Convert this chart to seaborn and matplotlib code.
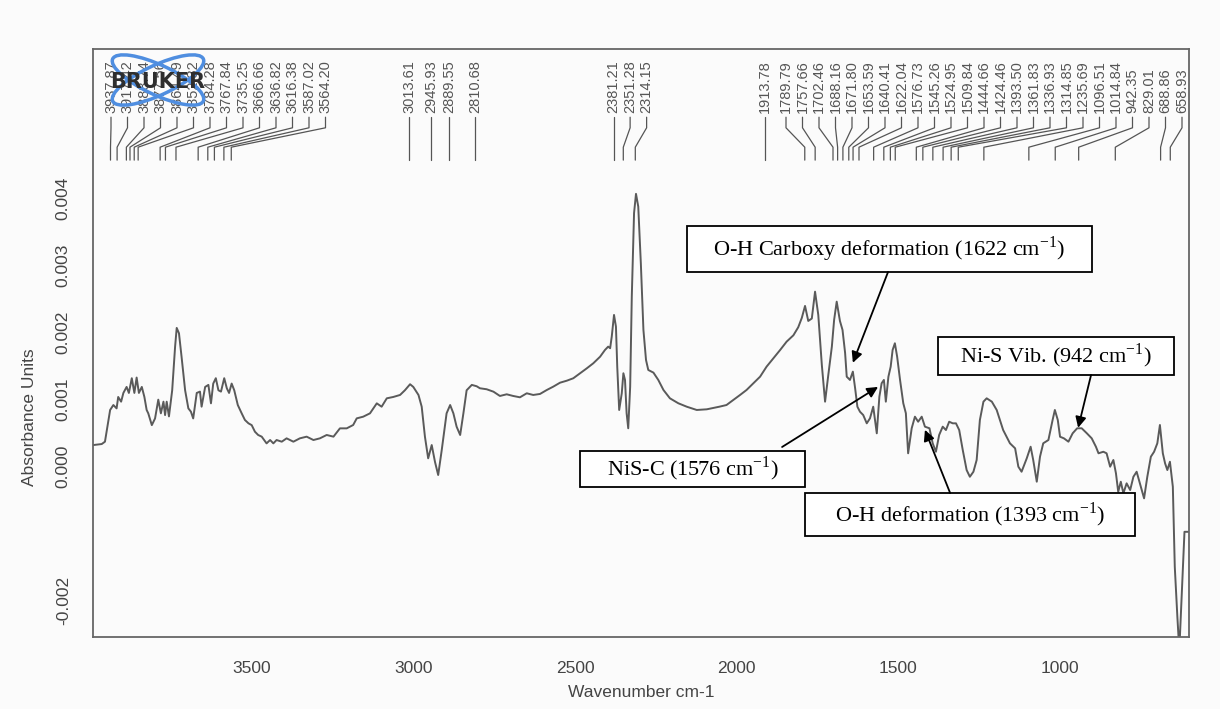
import matplotlib
matplotlib.use("Agg")
import matplotlib.pyplot as plt
import matplotlib.transforms as mtransforms
from matplotlib.patches import Rectangle, Ellipse
import pandas as pd
import seaborn as sns

# ---------------- data ----------------
wavenumber = [
    3991, 3965, 3955, 3939, 3929, 3919, 3914, 3905, 3898, 3888, 3881, 3872, 3864, 3857, 3850,
    3841, 3833, 3826, 3821, 3810, 3800, 3790, 3782, 3774, 3769, 3764, 3757, 3747, 3738, 3733,
    3726, 3718, 3707, 3697, 3689, 3682, 3671, 3661, 3656, 3645, 3635, 3627, 3620, 3612, 3604,
    3596, 3586, 3578, 3571, 3563, 3555, 3544, 3532, 3522, 3511, 3501, 3491, 3481, 3470, 3455,
    3444, 3434, 3424, 3408, 3393, 3372, 3352, 3331, 3310, 3290, 3269, 3248, 3228, 3207, 3187,
    3176, 3156, 3135, 3114, 3099, 3083, 3063, 3042, 3027, 3011, 3001, 2985, 2975, 2965, 2955,
    2944, 2934, 2924, 2913, 2898, 2887, 2877, 2867, 2856, 2846, 2836, 2820, 2805, 2795, 2774,
    2753, 2733, 2712, 2692, 2671, 2650, 2630, 2609, 2588, 2568, 2547, 2526, 2506, 2485, 2464,
    2444, 2423, 2408, 2398, 2392, 2387, 2380, 2374, 2370, 2364, 2356, 2351, 2346, 2341, 2336,
    2330, 2325, 2318, 2312, 2305, 2297, 2289, 2281, 2274, 2258, 2243, 2227, 2207, 2181, 2155,
    2124, 2093, 2054, 2032, 2011, 1990, 1970, 1949, 1928, 1908, 1887, 1866, 1846, 1825, 1810,
    1799, 1789, 1779, 1768, 1758, 1748, 1737, 1727, 1717, 1706, 1699, 1691, 1681, 1673, 1665,
    1660, 1650, 1641, 1634, 1627, 1619, 1609, 1598, 1588, 1578, 1567, 1559, 1552, 1545, 1539,
    1531, 1524, 1518, 1511, 1504, 1495, 1485, 1477, 1470, 1459, 1449, 1439, 1428, 1418, 1404,
    1394, 1384, 1374, 1363, 1353, 1343, 1332, 1322, 1312, 1301, 1289, 1279, 1268, 1258, 1248,
    1237, 1227, 1211, 1196, 1176, 1155, 1139, 1129, 1119, 1103, 1091, 1083, 1072, 1062, 1052,
    1036, 1023, 1016, 1007, 1000, 988, 974, 961, 947, 933, 917, 902, 889, 881, 866,
    856, 845, 835, 827, 820, 812, 804, 794, 783, 773, 763, 753, 740, 730, 719,
    709, 699, 691, 682, 675, 668, 660, 651, 645, 637, 631, 623, 615, 603,
]
absorbance = [
    0.000313, 0.000328, 0.000363, 0.000836, 0.000910, 0.000860, 0.00103, 0.000960, 0.00109, 0.00118,
    0.00109, 0.00131, 0.00109, 0.00132, 0.00109, 0.00118, 0.00103, 0.000836, 0.000786, 0.000610,
    0.000710, 0.000990, 0.000786, 0.000960, 0.000760, 0.000960, 0.000740, 0.00113, 0.00178, 0.00206,
    0.00198, 0.00163, 0.00113, 0.000860, 0.000810, 0.000710, 0.00109, 0.00111, 0.000885, 0.00118,
    0.00121, 0.000935, 0.00123, 0.00131, 0.00113, 0.00111, 0.00131, 0.00116, 0.00109, 0.00123,
    0.00113, 0.000910, 0.000786, 0.000687, 0.000637, 0.000610, 0.000512, 0.000463, 0.000438, 0.000338,
    0.000388, 0.000338, 0.000388, 0.000363, 0.000413, 0.000363, 0.000413, 0.000438, 0.000388, 0.000413,
    0.000463, 0.000438, 0.000562, 0.000562, 0.000612, 0.000711, 0.000736, 0.000786, 0.000935, 0.000885,
    0.00101, 0.00103, 0.00106, 0.00113, 0.00122, 0.00118, 0.00106, 0.000885, 0.000438, 0.000115,
    0.000313, 0.000064, -0.000134, 0.000239, 0.000786, 0.000910, 0.000786, 0.000587, 0.000463, 0.000786,
    0.00113, 0.00121, 0.00119, 0.00116, 0.001145, 0.001109, 0.001045, 0.001070, 0.001045, 0.001025,
    0.001085, 0.001060, 0.001075, 0.001134, 0.001184, 0.001243, 0.001273, 0.001309, 0.001384, 0.001458,
    0.001533, 0.001631, 0.001731, 0.001781, 0.001757, 0.001930, 0.002254, 0.002079, 0.001482, 0.000836,
    0.001085, 0.001384, 0.001284, 0.000787, 0.000563, 0.001184, 0.002527, 0.003772, 0.004060, 0.003870,
    0.003025, 0.002030, 0.001582, 0.001433, 0.001393, 0.001284, 0.001134, 0.001010, 0.000936, 0.000885,
    0.000836, 0.000846, 0.000885, 0.000910, 0.000985, 0.001060, 0.001134, 0.001234, 0.001333, 0.001482,
    0.001607, 0.001731, 0.001855, 0.001950, 0.002070, 0.002209, 0.002388, 0.002164, 0.002200, 0.002601,
    0.002254, 0.001507, 0.000960, 0.001358, 0.001781, 0.002179, 0.002452, 0.002164, 0.002030, 0.001687,
    0.001333, 0.001284, 0.001408, 0.001160, 0.000885, 0.000810, 0.000761, 0.000637, 0.000712, 0.000885,
    0.000488, 0.001034, 0.001234, 0.001284, 0.000960, 0.001333, 0.001482, 0.001731, 0.001831, 0.001631,
    0.001284, 0.000936, 0.000787, 0.000190, 0.000563, 0.000736, 0.000661, 0.000736, 0.000587, 0.000563,
    0.000339, 0.000213, 0.000463, 0.000587, 0.000537, 0.000661, 0.000637, 0.000637, 0.000537, 0.000239,
    -0.000060, -0.000160, -0.000085, 0.000090, 0.000687, 0.000960, 0.001010, 0.000960, 0.000836, 0.000537,
    0.000339, 0.000264, -0.000010, -0.000085, 0.000115, 0.000288, 0.000090, -0.000234, 0.000139, 0.000339,
    0.000388, 0.000687, 0.000836, 0.000687, 0.000437, 0.000413, 0.000363, 0.000488, 0.000563, 0.000563,
    0.000488, 0.000413, 0.000288, 0.000190, 0.000213, 0.000190, -0.000010, 0.000090, -0.000109, -0.000384,
    -0.000234, -0.000407, -0.000258, -0.000358, -0.000160, -0.000085, -0.000258, -0.000482, -0.000160, 0.000139,
    0.000213, 0.000339, 0.000612, 0.000190, 0.000040, -0.000060, 0.000064, -0.000309, -0.001503, -0.002249,
    -0.002750, -0.001851, -0.000981, -0.000981,
]

peaks_group_left = [3937.87, 3917.42, 3888.74, 3877.56, 3864.49, 3852.32, 3784.28, 3767.84,
                    3735.25, 3666.66, 3636.82, 3616.38, 3587.02, 3564.20]
peaks_group_mid = [3013.61, 2945.93, 2889.55, 2810.68, 2381.21, 2351.28, 2314.15]
peaks_group_right = [1913.78, 1789.79, 1757.66, 1702.46, 1688.16, 1671.80, 1653.59, 1640.41,
                     1622.04, 1576.73, 1545.26, 1524.95, 1509.84, 1444.66, 1424.46, 1393.50,
                     1361.83, 1336.93, 1314.85, 1235.69, 1096.51, 1014.84, 942.35, 829.01,
                     688.86, 658.93]

x_ticks = [3500, 3000, 2500, 2000, 1500, 1000]
y_ticks = [-0.002, -0.001, 0.000, 0.001, 0.002, 0.003, 0.004]
y_tick_labels = ["-0.002", "", "0.000", "0.001", "0.002", "0.003", "0.004"]

annotation_texts = [
    "O-H Carboxy deformation (1622 cm$^{\\mathregular{-1}}$)",
    "NiS-C (1576 cm$^{\\mathregular{-1}}$)",
    "Ni-S Vib. (942 cm$^{\\mathregular{-1}}$)",
    "O-H deformation (1393 cm$^{\\mathregular{-1}}$)",
]
# points the arrows indicate (wavenumber, absorbance)
annotation_targets = [(1641, 0.00154), (1563, 0.00118), (944, 0.00057), (1418, 0.00054)]

# ---------------- layout ----------------
W, H = 1220, 709
X_LEFT, X_RIGHT = 3992, 601
Y_LOW, Y_HIGH = -0.00255, 0.00622

# boxes: (wn_left, wn_right, abs_bottom, abs_top); arrow tails (wn, abs)
box_extents = [(2154, 901, 0.002896, 0.003582),
               (2485, 1789, -0.000313, 0.000224),
               (1377, 647, 0.001358, 0.001925),
               (1789, 768, -0.001045, -0.000403)]
arrow_tails = [(1532, 0.002896), (1860, 0.000284), (904, 0.001358), (1340, -0.000403)]

sns.set_style("white")
plt.rcParams["font.family"] = ["Liberation Sans", "DejaVu Sans"]
plt.rcParams["mathtext.fontset"] = "custom"
plt.rcParams["mathtext.rm"] = "Liberation Serif"

bg = "#fbfbfb"
fig = plt.figure(figsize=(W / 100, H / 100), dpi=100, facecolor=bg)
ax = fig.add_axes([93 / W, 72 / H, 1096 / W, 588 / H], facecolor=bg)

df = pd.DataFrame({"wavenumber": wavenumber, "absorbance": absorbance})
sns.lineplot(data=df, x="wavenumber", y="absorbance", sort=False, estimator=None,
             color="#5a5a5a", lw=1.4, ax=ax, zorder=2)

ax.set_xlim(X_LEFT, X_RIGHT)
ax.set_ylim(Y_LOW, Y_HIGH)
ax.set_xticks(x_ticks)
ax.set_xticklabels([str(t) for t in x_ticks])
ax.set_yticks(y_ticks)
ax.set_yticklabels(y_tick_labels, rotation=90, va="center")
ax.tick_params(axis="both", direction="out", length=7, width=1.1, color="#555555",
               labelcolor="#444444", labelsize=12.5)
ax.tick_params(axis="x", pad=10)
ax.tick_params(axis="y", pad=9)
for s in ax.spines.values():
    s.set_color("#666666")
    s.set_linewidth(1.3)
ax.set_xlabel("Wavenumber cm-1", fontsize=12.5, color="#444444", labelpad=7)
ax.set_ylabel("Absorbance Units", fontsize=12.5, color="#444444")
ax.yaxis.set_label_coords(-0.051, 0.374)

# ---------------- peak labels (spread to avoid overlap) ----------------
trans = mtransforms.blended_transform_factory(ax.transData, ax.transAxes)
all_peaks = sorted(peaks_group_left + peaks_group_mid + peaks_group_right, reverse=True)
px_per_unit = 1096 / (X_LEFT - X_RIGHT)
d = 16.5 / px_per_unit
p_lo = (111 - 93) / px_per_unit
p_hi = (1182 - 93) / px_per_unit
pos = [X_LEFT - w for w in all_peaks]
lab = [min(max(p, p_lo), p_hi) for p in pos]
for i in range(1, len(lab)):
    lab[i] = max(lab[i], lab[i - 1] + d)
lab[-1] = min(lab[-1], p_hi)
for i in range(len(lab) - 2, -1, -1):
    lab[i] = min(lab[i], lab[i + 1] - d)
for w, p, l in zip(all_peaks, pos, lab):
    lx = X_LEFT - l
    ax.plot([lx, lx, w, w], [0.884, 0.866, 0.833, 0.811], transform=trans,
            color="#555555", lw=0.9, clip_on=False, zorder=3)
    ax.text(lx, 0.891, f"{w:.2f}", rotation=90, ha="center", va="bottom",
            transform=trans, fontsize=10.5, color="#555555")

# ---------------- annotation boxes and arrows ----------------
for txt, (l, r, b, t), tail, tgt in zip(annotation_texts, box_extents, arrow_tails,
                                        annotation_targets):
    ax.add_patch(Rectangle((r, b), l - r, t - b, facecolor="white", edgecolor="black",
                           lw=1.3, zorder=5))
    ax.text((l + r) / 2, (b + t) / 2, txt, ha="center", va="center",
            family=["Liberation Serif", "DejaVu Serif"], fontsize=16, color="black", zorder=6)
    ax.annotate("", xy=tgt, xytext=tail,
                arrowprops=dict(arrowstyle="-|>", color="black", lw=1.3,
                                mutation_scale=16, shrinkA=0, shrinkB=0), zorder=6)

# ---------------- instrument logo ----------------
ident = mtransforms.IdentityTransform()
for ang in (25, -25):
    fig.add_artist(Ellipse((158, H - 80), 100, 30, angle=ang, fill=False,
                           edgecolor="#4f8ee0", lw=2.5, transform=ident, zorder=10))
fig.text(158 / W, 1 - 82 / H, "BRUKER", ha="center", va="center", fontsize=15,
         fontweight="bold", color="#2e2e2e", family="DejaVu Sans", zorder=11)

fig.savefig("out.png", dpi=100, facecolor=bg)
